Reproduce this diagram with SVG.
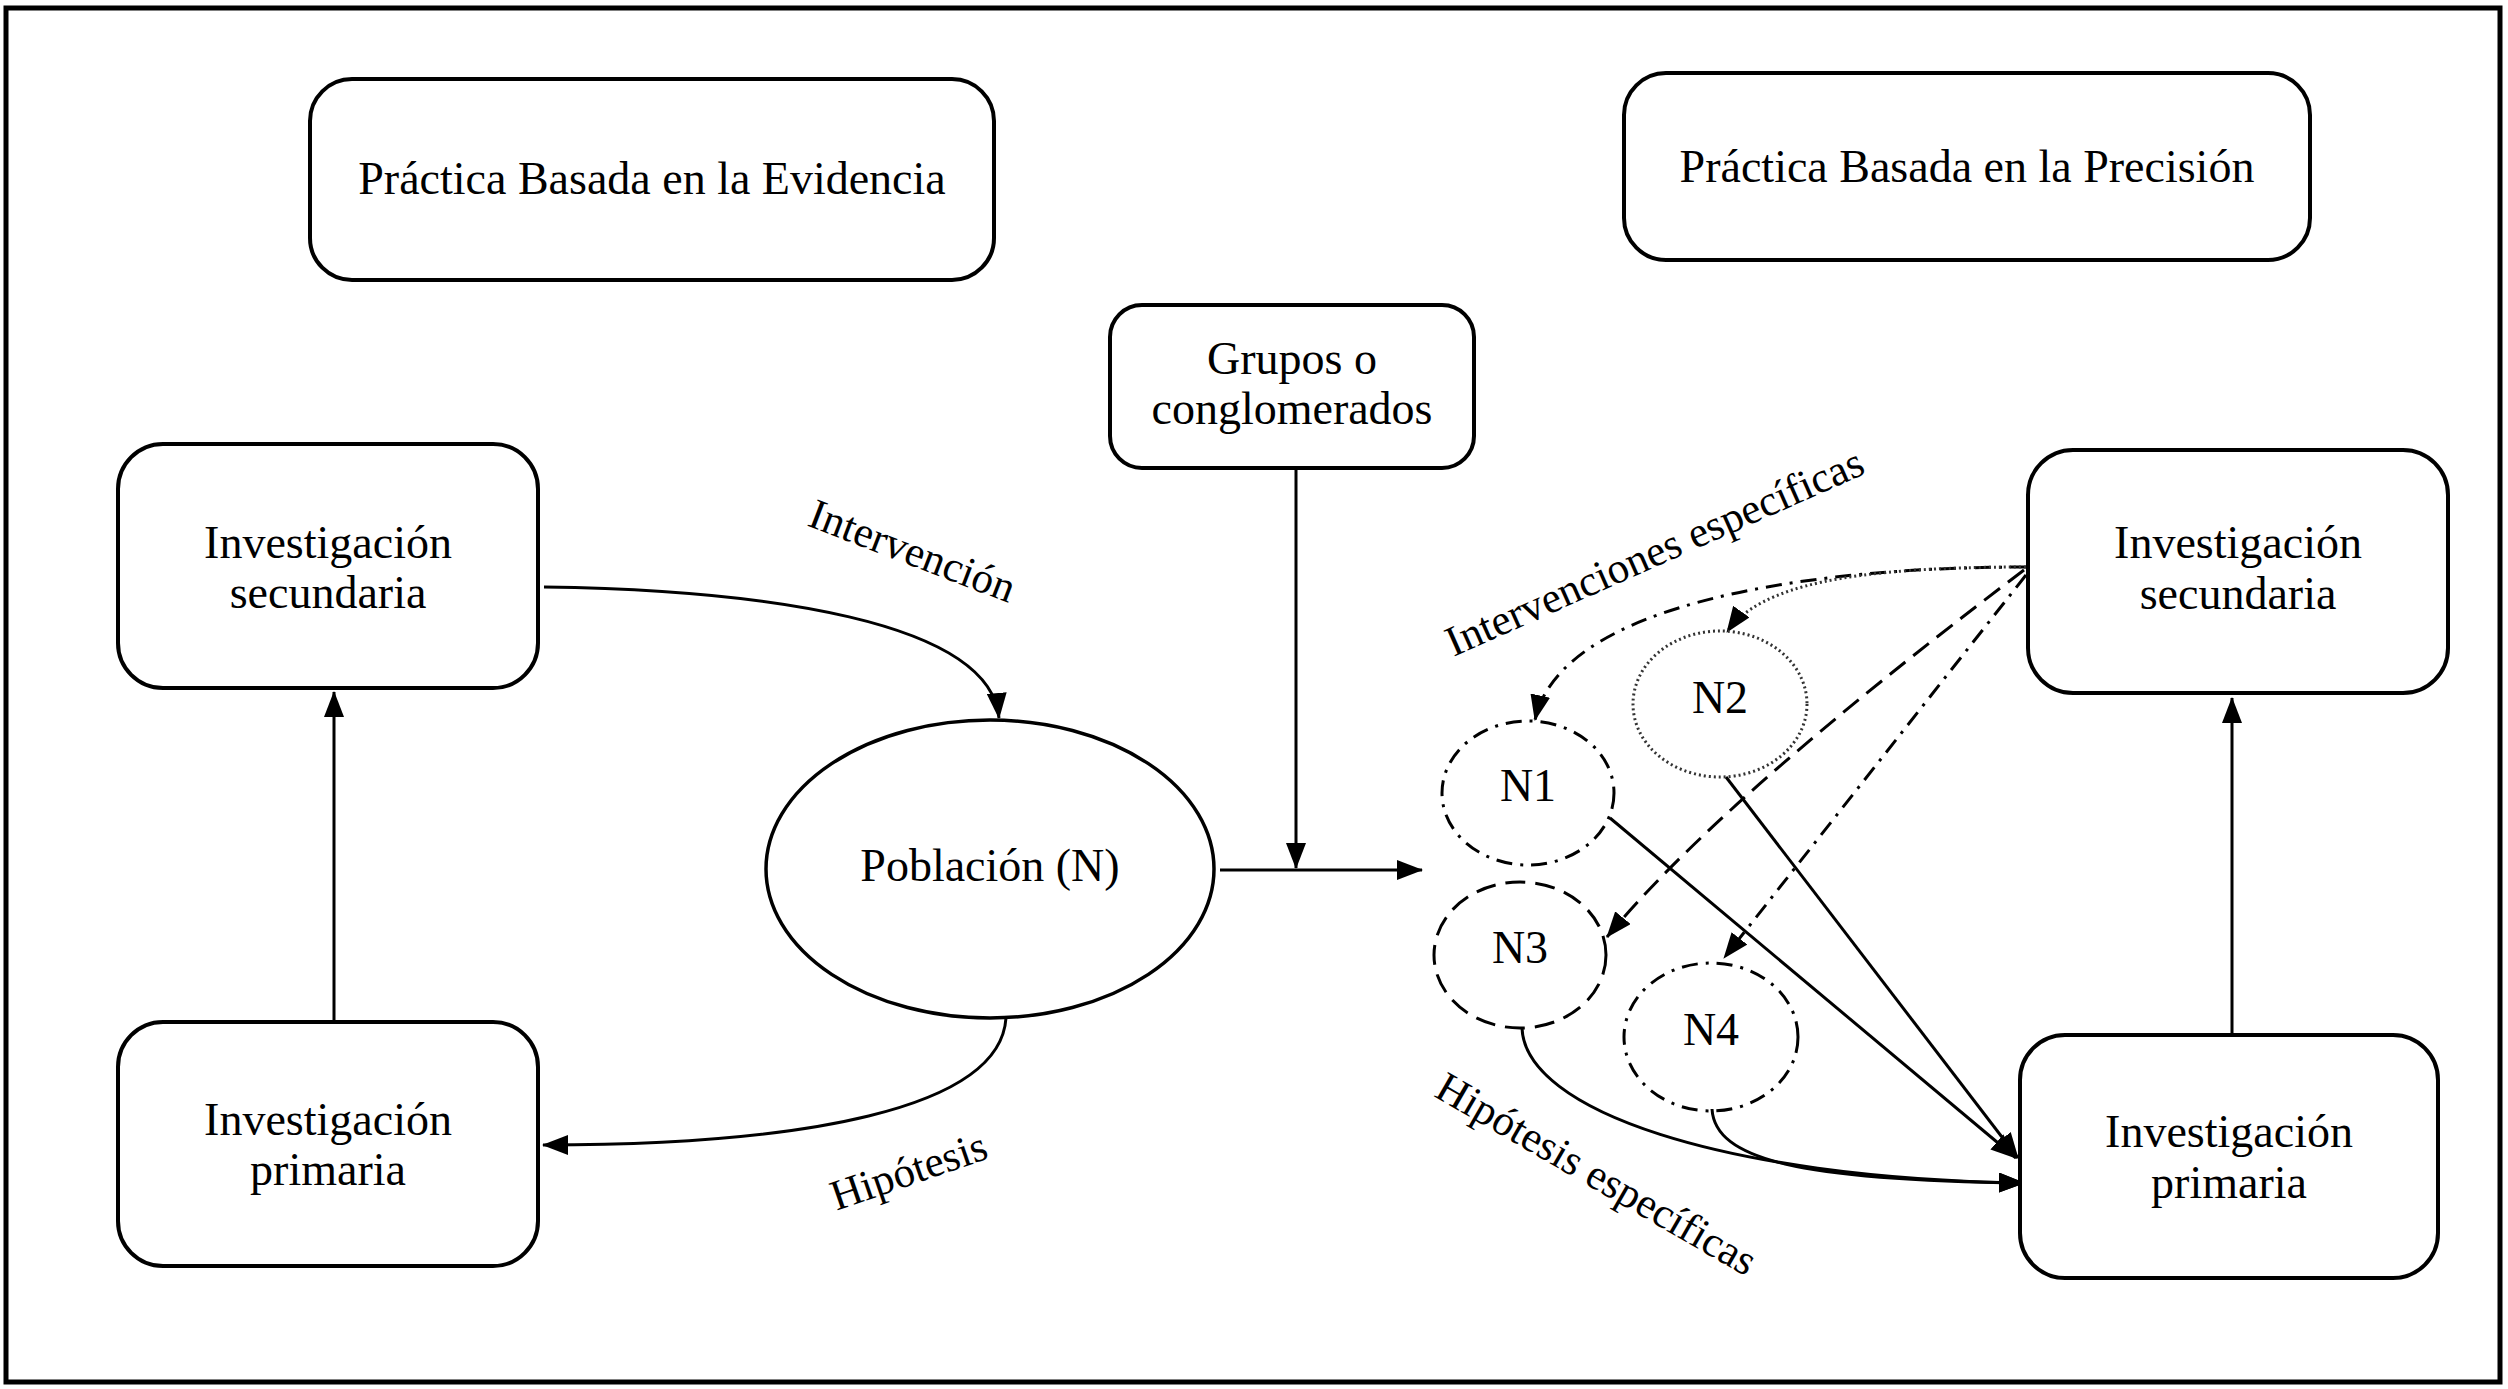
<svg xmlns="http://www.w3.org/2000/svg" width="2508" height="1389" viewBox="0 0 2508 1389">
<style>
  .box { fill: #fff; stroke: #000; stroke-width: 4; }
  .t { font-family: "Liberation Serif", "Times New Roman", serif; font-size: 46px; fill: #000; text-anchor: middle; }
  .lbl { font-family: "Liberation Serif", "Times New Roman", serif; font-size: 43px; fill: #000; text-anchor: middle; }
  .ln { fill: none; stroke: #000; stroke-width: 3; }
  .dashdot { stroke-dasharray: 16 8 3 8; }
  .dashed { stroke-dasharray: 20 10; }
  .dotted { stroke: #333; stroke-dasharray: 2 3; }
</style>
<defs>
  <marker id="arr" markerUnits="userSpaceOnUse" markerWidth="26" markerHeight="20" refX="25" refY="10" orient="auto">
    <path d="M0,0 L26,10 L0,20 z" fill="#000"/>
  </marker>
</defs>
<rect x="0" y="0" width="2508" height="1389" fill="#fff"/>
<rect id="frame" x="6" y="8" width="2494" height="1374" fill="none" stroke="#000" stroke-width="5"/>

<g id="connectors">
  <path class="ln" d="M544,587 C760,590 990,620 999,718" marker-end="url(#arr)"/>
  <path class="ln" d="M1006,1018 C1000,1110 800,1145 543,1145" marker-end="url(#arr)"/>
  <path class="ln" d="M334,1022 L334,692" marker-end="url(#arr)"/>
  <path class="ln" d="M1220,870 L1422,870" marker-end="url(#arr)"/>
  <path class="ln" d="M1296,468 L1296,868" marker-end="url(#arr)"/>
  <path class="ln" d="M2232,1035 L2232,698" marker-end="url(#arr)"/>
  <path class="ln dashdot" d="M2026,567 C1800,567 1560,605 1535,720" marker-end="url(#arr)"/>
  <path class="ln dotted" d="M2026,567 C1850,567 1760,585 1727,632" marker-end="url(#arr)"/>
  <path class="ln dashed" d="M2024,570 Q1720,800 1607,937" marker-end="url(#arr)"/>
  <path class="ln dashdot" d="M2026,575 L1724,958" marker-end="url(#arr)"/>
  <path class="ln" d="M1610,818 L2016,1158" marker-end="url(#arr)"/>
  <path class="ln" d="M1726,777 L2018,1158" marker-end="url(#arr)"/>
  <path class="ln" d="M1522,1028 C1525,1110 1720,1178 2024,1183" marker-end="url(#arr)"/>
  <path class="ln" d="M1712,1109 C1715,1160 1800,1180 2024,1183" marker-end="url(#arr)"/>
</g>

<g id="labels">
  <text class="lbl" x="912" y="565" transform="rotate(21 912 552)">Intervención</text>
  <text class="lbl" x="909" y="1185" transform="rotate(-19 909 1172)">Hipótesis</text>
  <text class="lbl" x="1655" y="566" transform="rotate(-24 1655 553)">Intervenciones específicas</text>
  <text class="lbl" x="1596" y="1188" transform="rotate(30 1596 1175)">Hipótesis específicas</text>
</g>

<g id="pbe">
  <rect class="box" x="310" y="79" width="684" height="201" rx="42"/>
  <text class="t" x="652" y="194">Práctica Basada en la Evidencia</text>
</g>
<g id="pbp">
  <rect class="box" x="1624" y="73" width="686" height="187" rx="42"/>
  <text class="t" x="1967" y="182">Práctica Basada en la Precisión</text>
</g>
<g id="grupos">
  <rect class="box" x="1110" y="305" width="364" height="163" rx="32"/>
  <text class="t" x="1292" y="374">Grupos o</text>
  <text class="t" x="1292" y="424">conglomerados</text>
</g>
<g id="sec-left">
  <rect class="box" x="118" y="444" width="420" height="244" rx="45"/>
  <text class="t" x="328" y="558">Investigación</text>
  <text class="t" x="328" y="608">secundaria</text>
</g>
<g id="pri-left">
  <rect class="box" x="118" y="1022" width="420" height="244" rx="45"/>
  <text class="t" x="328" y="1135">Investigación</text>
  <text class="t" x="328" y="1185">primaria</text>
</g>
<g id="poblacion">
  <ellipse cx="990" cy="869" rx="224" ry="149" fill="#fff" stroke="#000" stroke-width="3.5"/>
  <text class="t" x="990" y="881">Población (N)</text>
</g>
<g id="sec-right">
  <rect class="box" x="2028" y="450" width="420" height="243" rx="45"/>
  <text class="t" x="2238" y="558">Investigación</text>
  <text class="t" x="2238" y="609">secundaria</text>
</g>
<g id="pri-right">
  <rect class="box" x="2020" y="1035" width="418" height="243" rx="45"/>
  <text class="t" x="2229" y="1147">Investigación</text>
  <text class="t" x="2229" y="1198">primaria</text>
</g>
<g id="n1">
  <ellipse class="ln dashdot" cx="1528" cy="793" rx="86" ry="72" fill="#fff"/>
  <text class="t" x="1528" y="801">N1</text>
</g>
<g id="n2">
  <ellipse class="ln dotted" cx="1720" cy="704" rx="87" ry="73" fill="#fff"/>
  <text class="t" x="1720" y="713">N2</text>
</g>
<g id="n3">
  <ellipse class="ln dashed" cx="1520" cy="955" rx="86" ry="73" fill="#fff"/>
  <text class="t" x="1520" y="963">N3</text>
</g>
<g id="n4">
  <ellipse class="ln dashdot" cx="1711" cy="1037" rx="87" ry="74" fill="#fff"/>
  <text class="t" x="1711" y="1045">N4</text>
</g>
</svg>
